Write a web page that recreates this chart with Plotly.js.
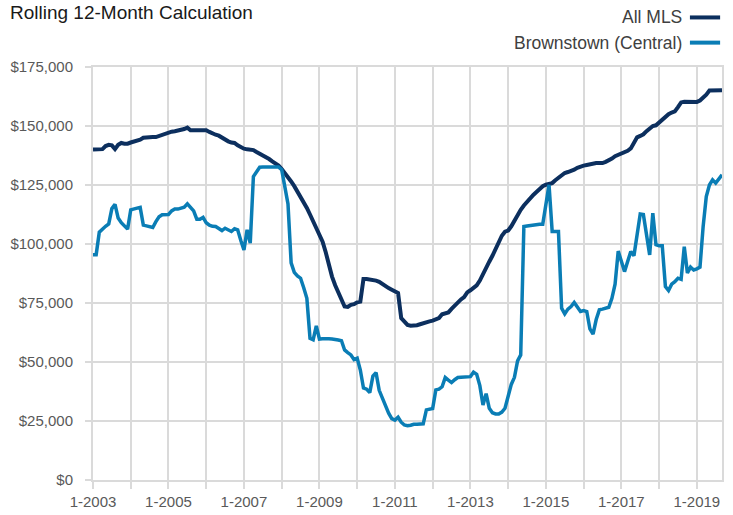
<!DOCTYPE html>
<html>
<head>
<meta charset="utf-8">
<script src="https://cdn.plot.ly/plotly-3.0.1.min.js"></script>
<style>
  html, body { margin: 0; padding: 0; background: #ffffff; }
  #chart { width: 733px; height: 515px; }
</style>
</head>
<body>
<div id="chart"></div>
<script>
// Years covered (monthly data, Jan 2003 - Sep 2019)
const years = [2003, 2004, 2005, 2006, 2007, 2008, 2009, 2010, 2011, 2012, 2013, 2014, 2015, 2016, 2017, 2018, 2019];
const lastMonth2019 = 9;

// Rolling 12-month median sales price, in thousands of dollars
const allMLS = [
  140, 140, 140, 140.2, 141.5, 142, 141.8, 140.2, 142, 142.8, 142.5, 142.5,
  143, 143.3, 143.7, 144.2, 145, 145.2, 145.3, 145.3, 145.3, 145.8, 146.3, 146.7,
  147.2, 147.6, 147.8, 148, 148.3, 148.7, 149.3, 148.2, 148.2, 148.3, 148.3, 148.3,
  148.2, 147.5, 146.8, 146.3, 145.9, 145, 144.3, 143.5, 143, 142.8, 141.8, 141,
  140.4, 140.1, 140, 139.8, 139, 138.3, 137.8, 137, 136, 135, 134.2, 133.2,
  131.8, 130.2, 128.5, 126.5, 124.5, 122.3, 120.1, 117.8, 115.3, 112.5, 109.5, 106.5,
  103.5, 101, 96.5, 91, 86.2, 82.5, 79.2, 76, 73.5, 73.3, 74.2, 74.5,
  75.3, 75.6, 85.2, 85.2, 85.1, 85, 84.5, 84, 83, 82, 81.3, 80.6,
  79.8, 79.2, 68.6, 67, 65.7, 65.4, 65.4, 65.6, 66, 66.5, 66.8, 67.2,
  67.5, 68, 68.6, 70.2, 70.8, 71, 72.5, 74, 75, 76.5, 77.5, 79.5,
  80.4, 81.5, 82.5, 84.5, 87.5, 90, 92.5, 95, 98, 100.5, 103.5, 105.2,
  105.7, 107.5, 110, 112.5, 114.5, 116.3, 118, 119.3, 120.8, 122, 123.2, 124.5,
  125.1, 125.5, 125.8, 127, 128.2, 129.2, 130.1, 130.5, 130.8, 131.5, 132.3, 132.9,
  133.2, 133.5, 133.9, 134.3, 134.3, 134.3, 134.3, 134.8, 135.4, 136.2, 137.2, 137.8,
  138, 138.6, 139.5, 140.5, 142.8, 145.2, 145.8, 146.5, 147.8, 149.2, 150, 150.3,
  151.5, 152.5, 154, 155, 155.7, 156.2, 158, 160, 160.3, 160.3, 160.5, 160.5,
  160.2, 160.8, 161.9, 163.3, 165, 165.1, 165.1, 165.1, 165.1
];

const brownstown = [
  95.4, 95.4, 105, 106.5, 107.5, 108.5, 115, 116.8, 111, 109, 107.7, 106.3,
  114.5, 115, 115.2, 115.5, 108, 107.7, 107.2, 107, 109.5, 111.5, 112.4, 112.4,
  112.5, 114, 114.8, 114.8, 115.2, 115.6, 117, 115.5, 114, 110.5, 110.5, 111.3,
  109, 108, 107.5, 107.4, 106.7, 105.7, 106.7, 106, 105.3, 106.5, 106, 101.5,
  97.5, 106, 100.4, 128.6, 130.5, 132.5, 132.6, 132.6, 132.6, 132.6, 132.6, 132.6,
  131.5, 125, 117, 92, 88, 86.5, 85.5, 81.5, 77, 60, 59.4, 65.3,
  59.7, 59.8, 59.9, 59.8, 59.7, 59.6, 59.3, 59, 55.1, 54, 53, 51,
  51.6, 46.6, 39, 38.5, 37, 44, 45.5, 38, 34.5, 31.5, 28.3, 26,
  25.4, 26.6, 24.5, 23.3, 23, 23.2, 23.6, 23.6, 23.8, 23.8, 29.7, 29.9,
  30.3, 38.2, 38.5, 39.5, 43.4, 42.3, 41.3, 42.5, 43.4, 43.5, 43.5, 43.5,
  43.8, 45.7, 44.8, 40, 31.8, 36.6, 30.4, 28.5, 28, 28, 28.8, 30.4,
  36, 40.5, 43.5, 50.5, 53, 107.4, 107.6, 107.8, 108, 108.4, 108.4, 108.4,
  116.5, 125.1, 105.3, 105.3, 105.3, 72.8, 70.4, 72.4, 73.5, 75.2, 73.5, 71.4,
  71.8, 71.4, 64, 61.8, 68, 72.1, 72.4, 72.8, 73.2, 77, 83, 97,
  92, 88.3, 92.6, 96.8, 95, 104, 112.7, 112.5, 104, 95.4, 113.1, 99.7,
  99.3, 99.3, 82, 80.3, 83, 84, 85.5, 85, 98.9, 87.7, 90.2, 89,
  89.5, 90.2, 107.4, 120.1, 125, 127.2, 125.8, 127.5, 129.3
];

const yTickVals = [0, 25, 50, 75, 100, 125, 150, 175];
const yTickText = ['$0', '$25,000', '$50,000', '$75,000', '$100,000', '$125,000', '$150,000', '$175,000'];
const seriesNames = ['All MLS', 'Brownstown (Central)'];
const seriesColors = ['#0c2f5e', '#0a7db5'];

// Month category labels "M-YYYY"
const months = [];
years.forEach(function (yr) {
  const n = (yr === 2019) ? lastMonth2019 : 12;
  for (let m = 1; m <= n; m++) months.push(m + '-' + yr);
});
const xTickVals = years.map(function (yr) { return '1-' + yr; });
const xTickText = years.map(function (yr, i) { return (i % 2 === 0) ? ('1-' + yr) : ''; });

const FONT = 'Liberation Sans, Arial, sans-serif';
const GRID = '#dadada';

const traces = [
  { x: months, y: allMLS, type: 'scatter', mode: 'lines', name: seriesNames[0],
    line: { color: seriesColors[0], width: 4 }, hoverinfo: 'skip' },
  { x: months, y: brownstown, type: 'scatter', mode: 'lines', name: seriesNames[1],
    line: { color: seriesColors[1], width: 3.5 }, hoverinfo: 'skip' }
];

const legendY = [1.12, 1.059];
const layout = {
  width: 733, height: 515,
  margin: { l: 93, r: 11, t: 67, b: 35, pad: 0 },
  paper_bgcolor: '#ffffff', plot_bgcolor: '#ffffff',
  showlegend: false,
  font: { family: FONT, color: '#595959' },
  title: { text: 'Rolling 12-Month Calculation', x: 10 / 733, xref: 'container', xanchor: 'left',
           y: 1 - 12 / 515, yref: 'container', yanchor: 'middle',
           font: { family: FONT, size: 19, color: '#1a1a1a' } },
  xaxis: {
    type: 'category', range: [0, months.length - 1],
    tickmode: 'array', tickvals: xTickVals, ticktext: xTickText,
    showgrid: true, gridcolor: GRID, gridwidth: 2,
    ticks: 'outside', ticklen: 7, tickwidth: 2, tickcolor: GRID,
    showline: true, linecolor: GRID, linewidth: 2, mirror: true, zeroline: false,
    tickfont: { family: FONT, size: 15, color: '#595959' }
  },
  yaxis: {
    range: [0, 175], tickmode: 'array', tickvals: yTickVals, ticktext: yTickText,
    showgrid: true, gridcolor: GRID, gridwidth: 2,
    ticks: 'outside', ticklen: 6, tickwidth: 2, tickcolor: GRID,
    showline: true, linecolor: GRID, linewidth: 2, mirror: true, zeroline: false,
    ticklabelstandoff: 9,
    tickfont: { family: FONT, size: 15, color: '#595959' }
  },
  annotations: seriesNames.map(function (nm, i) {
    return { text: nm, xref: 'paper', yref: 'paper', x: 0.939, y: legendY[i],
             xanchor: 'right', yanchor: 'middle', showarrow: false,
             font: { family: FONT, size: 17.5, color: '#404040' } };
  }),
  shapes: seriesNames.map(function (nm, i) {
    return { type: 'line', xref: 'paper', yref: 'paper', x0: 0.949, x1: 0.997,
             y0: legendY[i], y1: legendY[i], line: { color: seriesColors[i], width: 4 } };
  })
};

Plotly.newPlot('chart', traces, layout, { displayModeBar: false, staticPlot: true });
</script>
</body>
</html>
